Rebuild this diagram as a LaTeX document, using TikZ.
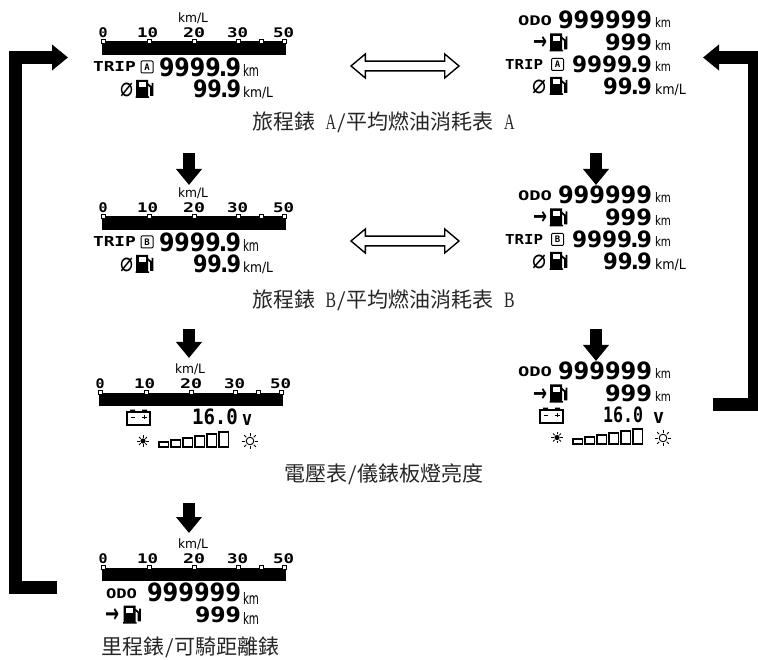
\documentclass[tikz,border=0pt]{standalone}
\usepackage{graphicx}
\usepackage{fontspec}
\usetikzlibrary{arrows.meta,shapes.arrows}
\newfontfamily\numf{DejaVu Sans}
\newfontfamily\monof{DejaVu Sans Mono}
\newfontfamily\cjkf{Noto Sans CJK TC}
\newfontfamily\latf{Liberation Serif}
\newcommand\dig{\numf\bfseries}
\newcommand\mon{\monof\bfseries}
\newcommand\thn{\numf}
\newcommand\hw[1]{\makebox[10.5pt][c]{\resizebox*{10.5pt}{14.5pt}{\latf #1}}}
\newcommand\hsp{\makebox[10.5pt]{}}
\newcommand\slh{\makebox[10.5pt][c]{\raisebox{-3pt}{\resizebox*{8pt}{19pt}{\latf /}}}}
\newcommand\distv{9999\kern-.08em.\kern-.08em9}
\newcommand\avgv{99\kern-.08em.\kern-.08em9}
\tikzset{
  lcd/.style={inner sep=0pt,outer sep=0pt,anchor=north west},
  capt/.style={inner sep=0pt,outer sep=0pt,anchor=west,font=\cjkf\fontsize{21}{21}\selectfont,text=black!85},
  bigarrow/.style={line width=#1,-{Triangle[length=16pt,width=25pt]},line join=miter},
  bigarrow/.default=12pt,
  dbl/.style={double arrow,draw=black,fill=white,line width=1.4pt,minimum height=108pt,minimum width=24pt,
     double arrow head extend=7pt,double arrow tip angle=80,inner sep=0pt,text width=0pt,text height=8pt,outer sep=0pt},
  letterbox/.style={draw=black,line width=1pt,rounded corners=1pt,inner sep=0pt,minimum size=12pt,
     font=\mon\fontsize{9}{9}\selectfont},
  pumpicon/.pic={
    \fill[black] (0.5,0) rectangle (12.5,18) (0,16.5) rectangle (13.5,18);
    \fill[white] (3,2.5) rectangle (10,7.5);
    \draw[black,line width=1.8pt] (12,4) -- (15.5,7) -- (15.5,15) -- (17,15) -- (17,3);
  },
  battery/.pic={
    \draw[black,line width=1.2pt] (0,3) rectangle (23,16);
    \fill[black] (3,0.5) rectangle (8,3) (15,0.5) rectangle (20,3);
    \draw[black,line width=1pt] (3.5,8) -- (8,8) (15,8) -- (20,8) (17.5,5.8) -- (17.5,10.2);
  },
  sunsmall/.pic={
    \fill[black] (0,0) circle (2.6pt);
    \foreach \a in {0,45,...,315} \draw[black,line width=.9pt] (\a:3.2pt) -- (\a:5.6pt);
  },
  sunlarge/.pic={
    \draw[black,line width=.9pt] (0,0) circle (3.8pt);
    \foreach \a in {0,45,...,315} \draw[black,line width=.9pt] (\a:5.4pt) -- (\a:8.2pt);
  }
}
% name x1 y1 x2 y2 font text
\newcommand\lcdtxt[7]{%
  \pgfmathsetlengthmacro\lcdw{#4-#2}\pgfmathsetlengthmacro\lcdh{#5-#3}%
  \node[lcd] (#1) at (#2,#3) {\resizebox*{\lcdw}{\lcdh}{#6#7}};}
\newcommand\gaugepanel[1]{%
  \lcdtxt{#1unit}{178}{13}{208}{24}{\thn}{km/L}
  \lcdtxt{#1t0}{98.5}{28}{107.5}{38}{\mon}{0}
  \lcdtxt{#1t10}{137}{28}{158}{38}{\mon}{10}
  \lcdtxt{#1t20}{183}{28}{205}{38}{\mon}{20}
  \lcdtxt{#1t30}{227}{28}{248}{38}{\mon}{30}
  \lcdtxt{#1t50}{273}{28}{294}{38}{\mon}{50}
  \fill[black] (102,41.5) rectangle (286,55);
  \foreach \nx in {103,149,194,238,261,284}
    \draw[black,fill=white,line width=.8pt] (\nx-2,39.5) rectangle (\nx+2,43);
}
\newcommand\tripleft[2]{%
  \lcdtxt{#1trip}{93}{62}{136}{72}{\mon}{TRIP}
  \node[letterbox] (#1box) at (147,67) {#2};
  \lcdtxt{#1dist}{159}{58}{241}{77}{\dig}{\distv}
  \lcdtxt{#1km}{243}{65}{259}{77}{\thn}{km}
  \lcdtxt{#1avg}{120}{83}{133}{97}{\thn}{⌀}
  \pic at (135.5,80) {pumpicon};
  \lcdtxt{#1val}{193}{80}{241}{98}{\dig}{\avgv}
  \lcdtxt{#1kml}{243}{87}{273}{99}{\thn}{km/L}
}
\newcommand\odorows[1]{%
  \lcdtxt{#1odo}{518}{16}{552}{26}{\mon}{ODO}
  \lcdtxt{#1odv}{558}{11}{652}{29}{\dig}{999999}
  \lcdtxt{#1okm}{655}{18}{671}{28}{\thn}{km}
  \lcdtxt{#1arr}{533}{37}{547}{50}{\numf\bfseries}{→}
  \pic at (549.5,33.5) {pumpicon};
  \lcdtxt{#1rng}{605}{34}{652}{51}{\dig}{999}
  \lcdtxt{#1rkm}{655}{41}{671}{51}{\thn}{km}
}
\newcommand\tripright[2]{%
  \lcdtxt{#1trip}{505}{60}{543}{70}{\mon}{TRIP}
  \node[letterbox] (#1box) at (557.5,64.5) {#2};
  \lcdtxt{#1dist}{572}{56}{652}{73}{\dig}{\distv}
  \lcdtxt{#1km}{655}{62}{671}{72}{\thn}{km}
  \lcdtxt{#1avg}{532}{80}{546}{94}{\thn}{⌀}
  \pic at (549.5,77) {pumpicon};
  \lcdtxt{#1val}{603}{78}{652}{95}{\dig}{\avgv}
  \lcdtxt{#1kml}{655}{84}{686}{96}{\thn}{km/L}
}
\newcommand\brightbars[4]{%
  \foreach \i/\bh in {0/5,1/7,2/9,3/11,4/13,5/15}
    \draw[black,line width=1.1pt] ({#1+\i*#2},#4) rectangle ({#1+\i*#2+#3},#4-\bh);
}
\begin{document}
\begin{tikzpicture}[x=1pt,y=-1pt]
\useasboundingbox (0,0) rectangle (758,660);
\gaugepanel{ga}
\tripleft{la}{A}
\begin{scope}[shift={(0,175)}]
  \gaugepanel{gb}
  \tripleft{lb}{B}
\end{scope}
\begin{scope}[shift={(-3,351)}]
  \gaugepanel{gc}
\end{scope}
\pic at (127,409) {battery};
\lcdtxt{vnl}{192}{409}{238}{425}{\mon}{16.0}
\lcdtxt{vul}{242}{414}{252}{425}{\mon}{v}
\pic at (143,441) {sunsmall};
\brightbars{159}{12}{9.2}{447}
\pic at (250,441) {sunlarge};
\begin{scope}[shift={(0,526)}]
  \gaugepanel{gd}
\end{scope}
\lcdtxt{dodo}{106}{589}{137}{599}{\mon}{ODO}
\lcdtxt{dodv}{147}{583}{241}{602}{\dig}{999999}
\lcdtxt{dokm}{243}{592}{259}{604}{\thn}{km}
\lcdtxt{darr}{105}{608}{119}{622}{\numf\bfseries}{→}
\pic at (123,605.5) {pumpicon};
\lcdtxt{drng}{195}{607}{241}{623}{\dig}{999}
\lcdtxt{drkm}{243}{612}{259}{624}{\thn}{km}
\odorows{ra}
\tripright{ra}{A}
\begin{scope}[shift={(0,175)}]
  \odorows{rb}
  \tripright{rb}{B}
\end{scope}
\begin{scope}[shift={(0,351)}]
  \odorows{rc}
\end{scope}
\pic at (540,407) {battery};
\lcdtxt{vnr}{603}{407}{643}{423}{\mon}{16.0}
\lcdtxt{vur}{653}{412}{664}{423}{\mon}{v}
\pic at (557,437.5) {sunsmall};
\brightbars{573}{12}{9.2}{444}
\pic at (663,438) {sunlarge};
\node[capt] (c1) at (252,122) {旅程錶\hsp\hw{A}\slh 平均燃油消耗表\hsp\hw{A}};
\node[capt] (c2) at (252,300) {旅程錶\hsp\hw{B}\slh 平均燃油消耗表\hsp\hw{B}};
\node[capt] (c3) at (284,474) {電壓表\slh 儀錶板燈亮度};
\node[capt] (c4) at (101,647) {里程錶\slh 可騎距離錶};
\node[dbl] (d1) at (405,66) {};
\node[dbl] (d2) at (405,241) {};
\coordinate (a1s) at (189,153); \coordinate (a1e) at (189,185);
\coordinate (a2s) at (189,329); \coordinate (a2e) at (189,358);
\coordinate (a3s) at (189,503); \coordinate (a3e) at (189,533);
\coordinate (a4s) at (596,153); \coordinate (a4e) at (596,185);
\coordinate (a5s) at (596,329); \coordinate (a5e) at (596,361);
\foreach \k in {1,...,5} \draw[bigarrow] (a\k s) -- (a\k e);
\coordinate (ls) at (57,587); \coordinate (lc) at (15,587);
\coordinate (lt) at (15,57.5); \coordinate (le) at (68,57.5);
\draw[bigarrow=13pt] (ls) -- (lc) -- (lt) -- (le);
\coordinate (rs) at (713,404); \coordinate (rc) at (754,404);
\coordinate (rt) at (754,57.5); \coordinate (re) at (703,57.5);
\draw[bigarrow=13pt] (rs) -- (rc) -- (rt) -- (re);
\end{tikzpicture}
\end{document}
